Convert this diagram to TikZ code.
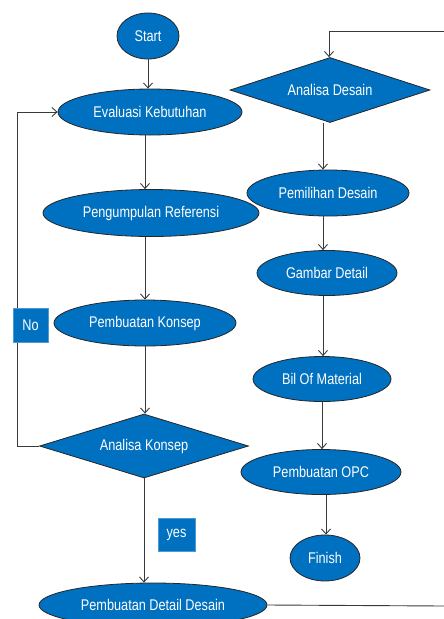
\documentclass[tikz,border=0pt]{standalone}
\usepackage{fontspec}
\setmainfont[FakeStretch=0.82]{Liberation Sans}
\usetikzlibrary{shapes.geometric,arrows.meta}
\definecolor{fblue}{HTML}{0070C0}
\definecolor{lgray}{HTML}{3A3A3A}
\tikzset{
  x=1pt, y=-1pt,
  base/.style={fill=fblue, draw=black!85, line width=0.8pt, text=white, inner sep=0pt,
    font=\fontsize{15.5}{17}\selectfont},
  oval/.style={base, ellipse},
  dia/.style={base, diamond, aspect=3},
  lbl/.style={fill=fblue, draw=fblue!70!white, line width=0.6pt, text=white, inner sep=0pt,
    font=\fontsize{15.5}{17}\selectfont},
  arr/.style={draw=lgray, line width=0.9pt, -{Straight Barb[length=5pt,width=9pt]}},
  ln/.style={draw=lgray, line width=0.9pt},
}
\begin{document}
\begin{tikzpicture}
\useasboundingbox (0,0) rectangle (444,619);
\clip (0,0) rectangle (444,619);
% left column
\node[oval, minimum width=62pt, minimum height=46pt] (start) at (148,36) {Start};
\node[oval, minimum width=184pt, minimum height=46pt] (evk) at (150,112) {Evaluasi Kebutuhan};
\node[oval, minimum width=216pt, minimum height=47pt] (peng) at (151,213) {Pengumpulan Referensi};
\node[oval, minimum width=182pt, minimum height=46pt] (konsep) at (145,323) {Pembuatan Konsep};
\node[dia, minimum width=209pt, minimum height=64pt] (ak) at (144,446) {Analisa Konsep};
\node[oval, minimum width=228pt, minimum height=44pt] (pdd) at (153,605) {Pembuatan Detail Desain};
% right column
\node[dia, minimum width=200pt, minimum height=65pt] (ad) at (330,90) {Analisa Desain};
\node[oval, minimum width=162pt, minimum height=46pt] (pem) at (328,193) {Pemilihan Desain};
\node[oval, minimum width=140pt, minimum height=45pt] (gd) at (327,273) {Gambar Detail};
\node[oval, minimum width=138pt, minimum height=45pt] (bom) at (322,379) {Bil Of Material};
\node[oval, minimum width=160pt, minimum height=45pt] (opc) at (321,472) {Pembuatan OPC};
\node[oval, minimum width=70pt, minimum height=46pt] (fin) at (325,558) {Finish};
% edge coordinates
\coordinate (tr) at (444,31);
\coordinate (br) at (444,606);
% connectors left
\draw[arr] (start.south) -- (start.south |- evk.north);
\draw[arr] ([xshift=-5pt]evk.south) -- ([xshift=-5pt]evk.south |- peng.north);
\draw[arr] ([xshift=-6pt]peng.south) -- ([xshift=-6pt]peng.south |- konsep.north);
\draw[arr] (konsep.south) -- (konsep.south |- ak.north);
\draw[arr] (ak.south) -- (ak.south |- pdd.north);
\draw[arr] (ak.west) -- (17,446) |- (evk.west);
\draw[ln] (pdd.east) -- (br);
% connectors right
\draw[arr] (tr) -| ([xshift=-1pt]ad.north);
\draw[arr] ([xshift=-7pt]ad.south) -- ([xshift=-7pt]ad.south |- pem.north);
\draw[arr] ([xshift=-5pt]pem.south) -- ([xshift=-5pt]pem.south |- gd.north);
\draw[arr] ([xshift=-4pt]gd.south) -- ([xshift=-4pt]gd.south |- bom.north);
\draw[arr] (bom.south) -- (bom.south |- opc.north);
\draw[arr] ([xshift=5pt]opc.south) -- ([xshift=5pt]opc.south |- fin.north);
% labels
\node[lbl, minimum width=35pt, minimum height=34pt] (no) at (30.5,325) {No};
\node[lbl, minimum width=37pt, minimum height=33pt] (yes) at (176.5,534.5) {yes};
\end{tikzpicture}
\end{document}
